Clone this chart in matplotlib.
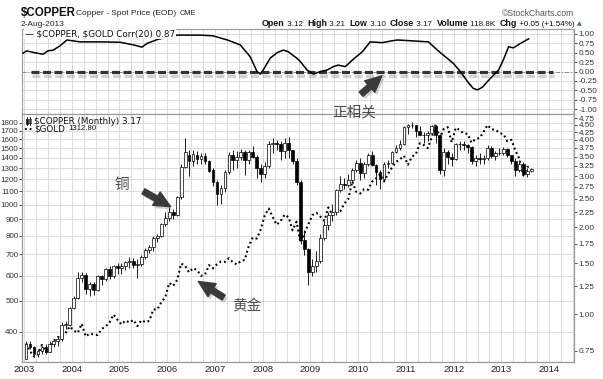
import numpy as np
import pandas as pd
import matplotlib
matplotlib.use('Agg')
import matplotlib.pyplot as plt
import matplotlib.patheffects as pe
from matplotlib.ticker import NullLocator

plt.rcParams['font.family'] = ['Liberation Sans', 'DejaVu Sans']

# monthly candles, Jan 2003 .. Aug 2013 (copper, $/lb)
months = pd.date_range('2003-01-01', '2013-08-01', freq='MS')

cu_open = [
    0.70, 0.79, 0.77, 0.73, 0.75, 0.77, 0.74, 0.79, 0.81, 0.82, 0.92, 0.92,
    1.05, 1.14, 1.34, 1.37, 1.22, 1.27, 1.21, 1.36, 1.32, 1.43, 1.36, 1.47,
    1.45, 1.47, 1.52, 1.53, 1.48, 1.49, 1.58, 1.67, 1.71, 1.83, 1.86, 2.05,
    2.15, 2.26, 2.20, 2.53, 3.22, 3.55, 3.38, 3.55, 3.44, 3.53, 3.38, 3.15,
    2.85, 2.60, 2.72, 3.10, 3.55, 3.40, 3.50, 3.62, 3.40, 3.62, 3.48, 3.20,
    3.05, 3.25, 3.87, 3.90, 3.88, 3.65, 3.90, 3.68, 3.38, 2.87, 1.80, 1.68,
    1.40, 1.47, 1.53, 1.84, 2.03, 2.20, 2.25, 2.69, 2.81, 2.80, 2.91, 3.15,
    3.33, 3.07, 3.29, 3.55, 3.28, 3.10, 2.94, 3.29, 3.33, 3.64, 3.76, 3.86,
    4.44, 4.50, 4.50, 4.30, 4.17, 4.16, 4.22, 4.47, 4.14, 3.14, 3.64, 3.50,
    3.43, 3.86, 3.86, 3.83, 3.79, 3.37, 3.47, 3.43, 3.47, 3.75, 3.53, 3.59,
    3.59, 3.73, 3.55, 3.39, 3.15, 3.29, 3.06, 3.12,
]
cu_high = [
    0.81, 0.81, 0.78, 0.76, 0.78, 0.79, 0.81, 0.82, 0.84, 0.94, 0.95, 1.06,
    1.16, 1.40, 1.40, 1.39, 1.29, 1.29, 1.37, 1.37, 1.45, 1.47, 1.48, 1.50,
    1.50, 1.53, 1.58, 1.56, 1.55, 1.60, 1.70, 1.74, 1.86, 1.90, 2.06, 2.25,
    2.35, 2.30, 2.55, 3.30, 4.05, 3.70, 3.70, 3.65, 3.60, 3.60, 3.40, 3.20,
    2.90, 2.80, 3.15, 3.62, 3.70, 3.65, 3.72, 3.70, 3.70, 3.80, 3.55, 3.30,
    3.35, 3.95, 4.05, 3.98, 3.95, 4.05, 4.10, 3.70, 3.45, 2.90, 1.95, 1.70,
    1.55, 1.65, 1.90, 2.10, 2.25, 2.40, 2.70, 3.00, 2.95, 3.05, 3.20, 3.40,
    3.45, 3.35, 3.60, 3.65, 3.30, 3.15, 3.35, 3.40, 3.65, 3.85, 4.00, 4.45,
    4.55, 4.62, 4.50, 4.45, 4.25, 4.30, 4.50, 4.50, 4.20, 3.75, 3.70, 3.60,
    3.90, 3.95, 3.95, 3.87, 3.80, 3.55, 3.60, 3.55, 3.85, 3.80, 3.65, 3.75,
    3.78, 3.75, 3.55, 3.45, 3.40, 3.35, 3.20, 3.21,
]
cu_low = [
    0.70, 0.76, 0.71, 0.71, 0.73, 0.73, 0.74, 0.77, 0.78, 0.81, 0.89, 0.91,
    1.04, 1.13, 1.29, 1.18, 1.16, 1.17, 1.20, 1.26, 1.30, 1.32, 1.33, 1.38,
    1.38, 1.42, 1.45, 1.45, 1.33, 1.47, 1.55, 1.63, 1.66, 1.78, 1.85, 2.01,
    2.10, 2.13, 2.18, 2.50, 3.20, 3.00, 3.25, 3.30, 3.30, 3.30, 3.10, 2.78,
    2.38, 2.40, 2.65, 3.05, 3.15, 3.20, 3.40, 3.02, 3.30, 3.45, 2.95, 2.86,
    2.95, 3.20, 3.60, 3.70, 3.40, 3.45, 3.45, 3.30, 2.80, 1.75, 1.60, 1.26,
    1.36, 1.40, 1.50, 1.80, 1.95, 2.10, 2.20, 2.65, 2.70, 2.75, 2.85, 3.10,
    2.90, 2.95, 3.25, 3.25, 2.80, 2.70, 2.90, 3.20, 3.30, 3.60, 3.70, 3.85,
    4.20, 4.40, 4.10, 4.15, 3.90, 3.95, 4.20, 3.90, 3.05, 3.00, 3.30, 3.25,
    3.40, 3.70, 3.70, 3.60, 3.30, 3.25, 3.30, 3.30, 3.40, 3.45, 3.40, 3.55,
    3.55, 3.50, 3.30, 3.00, 3.10, 3.00, 2.98, 3.10,
]
cu_close = [
    0.79, 0.77, 0.73, 0.75, 0.77, 0.74, 0.79, 0.81, 0.82, 0.92, 0.92, 1.05,
    1.14, 1.34, 1.37, 1.22, 1.27, 1.21, 1.36, 1.32, 1.43, 1.36, 1.47, 1.45,
    1.47, 1.52, 1.53, 1.48, 1.49, 1.58, 1.67, 1.71, 1.83, 1.86, 2.05, 2.15,
    2.26, 2.20, 2.53, 3.22, 3.62, 3.38, 3.57, 3.44, 3.53, 3.38, 3.13, 2.85,
    2.60, 2.72, 3.10, 3.55, 3.40, 3.50, 3.62, 3.40, 3.62, 3.48, 3.20, 3.05,
    3.25, 3.87, 3.90, 3.88, 3.65, 3.90, 3.68, 3.38, 2.87, 1.80, 1.68, 1.40,
    1.47, 1.53, 1.84, 2.03, 2.20, 2.25, 2.69, 2.81, 2.80, 2.91, 3.15, 3.33,
    3.07, 3.29, 3.55, 3.28, 3.10, 2.94, 3.29, 3.33, 3.64, 3.76, 3.86, 4.44,
    4.50, 4.50, 4.30, 4.17, 4.16, 4.22, 4.47, 4.14, 3.14, 3.64, 3.50, 3.43,
    3.86, 3.86, 3.83, 3.79, 3.37, 3.47, 3.43, 3.47, 3.75, 3.53, 3.59, 3.59,
    3.73, 3.55, 3.39, 3.15, 3.29, 3.06, 3.12, 3.17,
]

# gold monthly close ($/oz), same months
gold_close = [
    368, 348, 335, 339, 364, 346, 354, 375, 385, 386, 398, 416,
    404, 397, 424, 387, 395, 393, 391, 408, 416, 428, 453, 436,
    422, 434, 428, 436, 417, 435, 429, 433, 470, 470, 495, 513,
    569, 557, 582, 654, 643, 614, 633, 624, 599, 604, 647, 632,
    651, 664, 662, 680, 660, 650, 666, 672, 743, 789, 783, 836,
    924, 972, 916, 865, 888, 930, 913, 831, 884, 760, 814, 870,
    928, 942, 917, 891, 980, 927, 955, 953, 1008, 1040, 1182, 1096,
    1083, 1118, 1113, 1180, 1208, 1244, 1181, 1248, 1307, 1359, 1386, 1421,
    1333, 1411, 1439, 1556, 1536, 1502, 1628, 1780, 1620, 1723, 1746, 1566,
    1738, 1711, 1669, 1664, 1561, 1604, 1615, 1687, 1773, 1719, 1714, 1675,
    1660, 1578, 1595, 1476, 1392, 1234, 1313, 1313,
]

# Corr(20) copper vs gold (date in years, value)
corr_date = [
    2002.98, 2003.06, 2003.19, 2003.40, 2003.50, 2003.61, 2003.75, 2003.90,
    2004.01, 2004.17, 2004.59, 2005.01, 2005.29, 2005.47, 2005.58, 2005.81,
    2006.21, 2006.69, 2006.96, 2007.26, 2007.53, 2007.74, 2007.88, 2007.95,
    2008.01, 2008.16, 2008.30, 2008.43, 2008.53, 2008.72, 2008.79, 2008.93,
    2009.06, 2009.21, 2009.35, 2009.48, 2009.58, 2009.73, 2009.90, 2010.09,
    2010.25, 2010.51, 2010.67, 2010.82, 2011.09, 2011.47, 2011.66, 2011.78,
    2011.99, 2012.14, 2012.29, 2012.41, 2012.50, 2012.60, 2012.77, 2012.94,
    2013.04, 2013.15, 2013.25, 2013.40, 2013.57,
]
corr_value = [
    0.49, 0.55, 0.51, 0.46, 0.55, 0.57, 0.68, 0.84,
    0.82, 0.79, 0.79, 0.78, 0.71, 0.65, 0.75, 0.86,
    0.97, 0.97, 0.95, 0.84, 0.71, 0.39, 0.00, -0.07,
    0.04, 0.36, 0.50, 0.57, 0.53, 0.35, 0.26, 0.04,
    -0.07, 0.00, 0.04, 0.13, 0.17, 0.13, 0.33, 0.53,
    0.79, 0.77, 0.81, 0.84, 0.82, 0.79, 0.57, 0.44,
    0.22, 0.00, -0.27, -0.45, -0.49, -0.42, -0.18, 0.04,
    0.31, 0.66, 0.63, 0.75, 0.87,
]

gold_ticks = [400, 500, 600, 700, 800, 900, 1000, 1100, 1200, 1300, 1400, 1500, 1600, 1700, 1800]
cu_ticks = [0.75, 1.00, 1.25, 1.50, 1.75, 2.00, 2.25, 2.50, 2.75, 3.00, 3.25, 3.50, 3.75, 4.00, 4.25, 4.50, 4.75]
corr_ticks = [-1.0, -0.75, -0.5, -0.25, 0.0, 0.25, 0.5, 0.75, 1.0]
years = list(range(2003, 2015))

W, H = 603, 379


def fx(px):
    return px / W


def fy(py):
    return 1 - py / H


x = np.array([d.year + (d.month - 0.5) / 12 for d in months])
o = np.array(cu_open)
hi = np.array(cu_high)
lo = np.array(cu_low)
c = np.array(cu_close)

fig = plt.figure(figsize=(W / 100, H / 100), dpi=100)
renderer = fig.canvas.get_renderer()
left, right = 22, 574
ax_top = fig.add_axes([fx(left), fy(114), fx(right - left), 85 / H])
ax_bot = fig.add_axes([fx(left), fy(362), fx(right - left), 248 / H])
ax_cu = ax_bot.twinx()

grid_c = '#d6d6d6'
for ax in (ax_top, ax_bot, ax_cu):
    ax.set_xlim(2002.958, 2014.52)
    for s in ax.spines.values():
        s.set_color('#999999')
        s.set_linewidth(0.8)
    ax.tick_params(labelsize=5.9, colors='#333333', length=2.5, width=0.6, pad=1)

for ax in (ax_top, ax_bot):
    ax.set_xticks(years)
    ax.set_xticks(np.arange(2003, 2014.6, 0.25), minor=True)
    ax.grid(True, axis='x', which='both', color=grid_c, lw=0.6)
    ax.set_axisbelow(True)
    ax.tick_params(axis='x', which='both', length=0)

# ---- upper panel: correlation
ax_top.set_ylim(-1.133, 1.133)
ax_top.set_yticks(corr_ticks)
ax_top.set_yticklabels([f'{v:.2f}' for v in corr_ticks])
ax_top.yaxis.tick_right()
ax_top.grid(True, axis='y', color=grid_c, lw=0.6)
ax_top.set_xticklabels([])
ax_top.axhline(0, color='#8c8c8c', lw=0.7, ls=(0, (4, 2, 1, 2)), zorder=1)
ax_top.axhline(0, xmin=0.016, xmax=0.962, color='#333333', lw=2.3, dashes=(2.5, 1.1),
               solid_capstyle='butt',
               path_effects=[pe.SimpleLineShadow(offset=(0.5, -3), shadow_color='#9a9a9a', alpha=0.45),
                             pe.Normal()], zorder=3)
ax_top.plot(corr_date, corr_value, color='black', lw=1.1, zorder=4)
ax_top.text(0.006, 0.94, '\u2014 $COPPER, $GOLD Corr(20) 0.87', transform=ax_top.transAxes,
            va='center', ha='left', fontsize=6.3, family='DejaVu Sans', color='#111111',
            parse_math=False, zorder=5, bbox=dict(fc='white', ec='none', pad=0.6))

# ---- lower panel: gold (left, log) and copper candles (right, log)
ax_bot.set_yscale('log')
ax_bot.set_ylim(322, 1920)
ax_bot.yaxis.set_minor_locator(NullLocator())
ax_bot.set_yticks(gold_ticks)
ax_bot.set_yticklabels([str(v) for v in gold_ticks])
ax_bot.tick_params(axis='y', labelsize=5.8, length=2, pad=0.5)
ax_bot.grid(True, axis='y', which='major', color=grid_c, lw=0.6)
ax_bot.set_xticklabels([str(y) for y in years], fontsize=6.8, color='#222222')
ax_bot.tick_params(axis='x', pad=2)
ax_bot.plot(x, gold_close, color='black', lw=1.5, ls=(0, (0.9, 1.4)), zorder=2)

ax_cu.set_yscale('log')
ax_cu.set_ylim(0.685, 4.91)
ax_cu.yaxis.set_minor_locator(NullLocator())
ax_cu.set_yticks(cu_ticks)
ax_cu.set_yticklabels([f'{v:.2f}' for v in cu_ticks])

up = c >= o
ax_cu.vlines(x, lo, hi, color='#1a1a1a', lw=0.7, zorder=2)
ax_cu.bar(x, np.maximum(np.abs(c - o), 0.004), bottom=np.minimum(o, c), width=0.058,
          color=np.where(up, 'white', 'black'), edgecolor='black', lw=0.5, zorder=3)

# legend of lower panel
fig.add_artist(plt.Line2D([fx(27), fx(27)], [fy(117), fy(125)], color='black', lw=0.6))
fig.add_artist(plt.Rectangle((fx(25.8), fy(123.5)), 2.4 / W, 5 / H, fc='black', ec='black', lw=0.4))
fig.add_artist(plt.Line2D([fx(30), fx(30)], [fy(117), fy(125)], color='black', lw=0.6))
fig.add_artist(plt.Rectangle((fx(28.8), fy(123)), 2.4 / W, 4.5 / H, fc='white', ec='black', lw=0.4))
fig.add_artist(plt.Line2D([fx(25), fx(33)], [fy(129), fy(129)], color='black', lw=1.3, ls=(0, (1, 1.6))))
fig.text(fx(34), fy(121), '$COPPER (Monthly) 3.17', fontsize=6.3, family='DejaVu Sans',
         va='center', color='#111111', parse_math=False)
tg = fig.text(fx(34), fy(129), '$GOLD', fontsize=6.3, family='DejaVu Sans', va='center',
              color='#111111', parse_math=False)
gx = 34 + tg.get_window_extent(renderer).width + 3
fig.text(fx(gx), fy(129), '1312.80', fontsize=5.6, va='center', color='#111111')

# ---- header
fig.text(fx(21), fy(13), '$COPPER', fontsize=8.3, weight='bold', va='center', color='#111111',
         parse_math=False)
fig.text(fx(76), fy(13.5), 'Copper - Spot Price (EOD)', fontsize=6, va='center', color='#222222')
fig.text(fx(180), fy(13.5), 'CME', fontsize=5.3, va='center', color='#222222')
fig.text(fx(21), fy(24), '2-Aug-2013', fontsize=6, va='center', color='#222222')
fig.text(fx(574), fy(14), '\u00a9StockCharts.com', fontsize=6.2, ha='right', va='center', color='#555555')

pieces = [('Open', True), (' 3.12  ', False), ('High', True), (' 3.21  ', False),
          ('Low', True), (' 3.10  ', False), ('Close', True), (' 3.17  ', False),
          ('Volume', True), (' 118.8K  ', False), ('Chg', True), (' +0.05 (+1.54%) ', False)]
xpos = 262
for s, bold in pieces:
    t = fig.text(fx(xpos), fy(24), s, fontsize=6.4 if bold else 5.8,
                 weight='bold' if bold else 'normal', va='center', color='#111111')
    xpos += t.get_window_extent(renderer).width
fig.text(fx(xpos), fy(24), '\u25b2', fontsize=4.5, family='DejaVu Sans', va='center', color='#3d7a3d')

# ---- hand drawn annotations
cjk = ['Noto Sans CJK SC', 'DejaVu Sans']
arrow = dict(arrowstyle='simple,head_width=0.85,head_length=0.9,tail_width=0.32',
             fc='#3a3a3a', ec='#3a3a3a', mutation_scale=13)
shadow = [pe.SimplePatchShadow(offset=(1.5, -2), shadow_rgbFace='#888888', alpha=0.4), pe.Normal()]
notes = [('铜', (122, 185), (141, 190), (173, 208)),
         ('黄金', (247, 306), (226, 299), (196, 280)),
         ('正相关', (354, 112), (359, 96), (384, 74))]
for label, (tx, ty), (ax0, ay0), (ax1, ay1) in notes:
    fig.text(fx(tx), fy(ty), label, family=cjk, fontsize=10.5, color='#4d4d4d',
             ha='center', va='center')
    a = fig.add_artist(matplotlib.patches.FancyArrowPatch((fx(ax0), fy(ay0)), (fx(ax1), fy(ay1)),
                                                          transform=fig.transFigure, **arrow))
    a.set_path_effects(shadow)

fig.savefig('out.png', dpi=100)
